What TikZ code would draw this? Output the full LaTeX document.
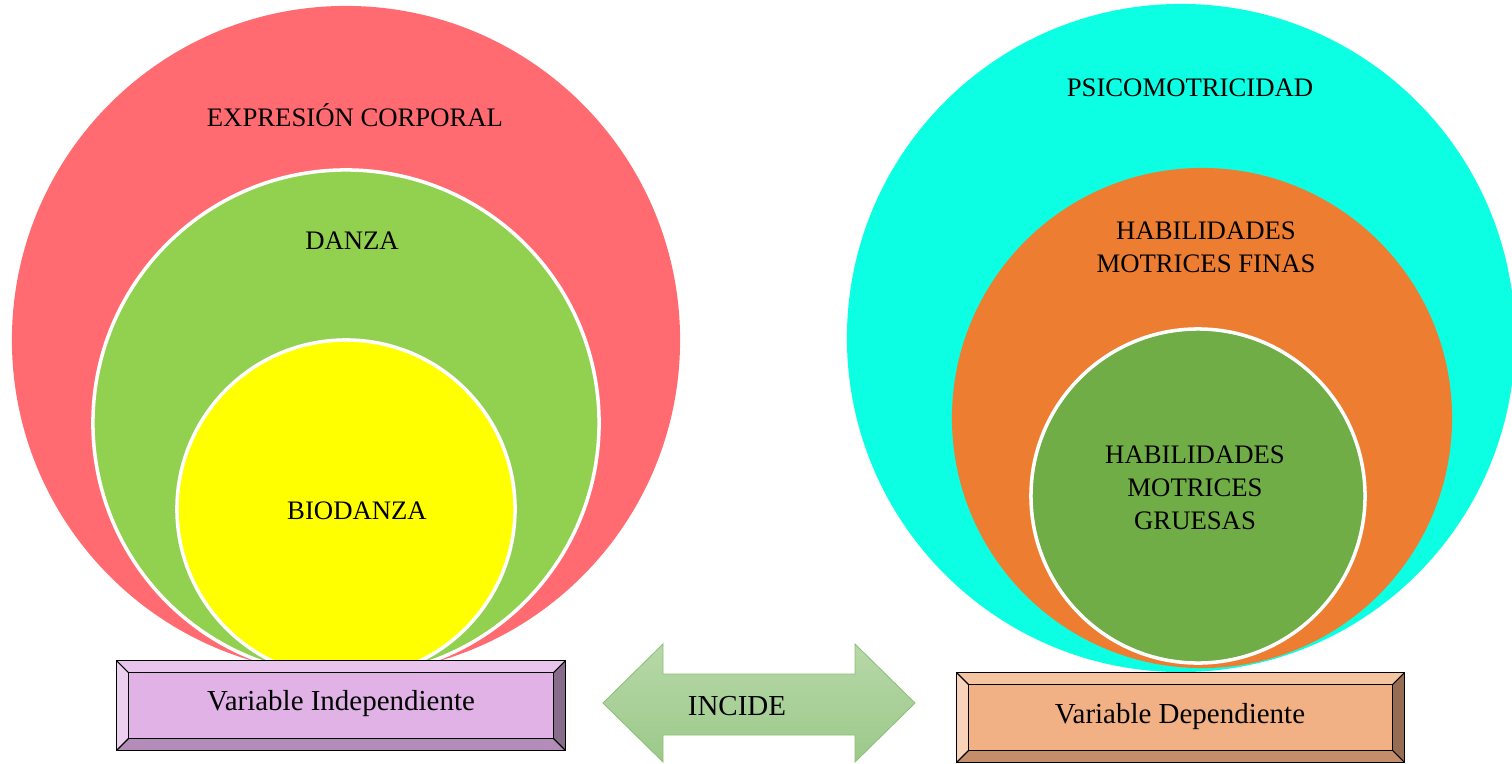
\documentclass[tikz,border=0pt]{standalone}
\usepackage{fontspec}
\setmainfont{Liberation Serif}
\usetikzlibrary{calc}
\definecolor{ecred}{HTML}{FF6B70}
\definecolor{ecgreen}{HTML}{92D050}
\definecolor{ecyellow}{HTML}{FFFF00}
\definecolor{pscyan}{HTML}{0DFFE3}
\definecolor{psorange}{HTML}{ED7D31}
\definecolor{psgreen}{HTML}{70AD47}
\definecolor{vifront}{HTML}{E0B2E6}
\definecolor{vitop}{HTML}{E9C5ED}
\definecolor{vileft}{HTML}{EDD0F0}
\definecolor{viright}{HTML}{876C8C}
\definecolor{vibot}{HTML}{B48CBA}
\definecolor{vdfront}{HTML}{F2B085}
\definecolor{vdtop}{HTML}{F5C4A0}
\definecolor{vdleft}{HTML}{F8D2B9}
\definecolor{vdright}{HTML}{966C52}
\definecolor{vdbot}{HTML}{C48E6A}
\definecolor{incup}{HTML}{B7D8A8}
\definecolor{incdown}{HTML}{9CC98A}
\definecolor{incline}{HTML}{8CC078}

\begin{document}
\begin{tikzpicture}[
  x=0.025cm, y=-0.025cm,
  every node/.style={font=\fontsize{19}{23.5}\selectfont},
  disc/.style={circle, inner sep=0pt},
  ring/.style={circle, inner sep=0pt, draw=white, line width=2.5pt},
  lbl/.style={align=center, inner sep=0pt},
  vbox/.style={rectangle, inner sep=0pt, minimum height=2.225cm, font=\fontsize{20.6}{24}\selectfont},
]
\clip (0,0) rectangle (1512,763);

% Variable independiente
\node[disc, fill=ecred, minimum size=16.7cm] (expr) at (346,340) {};
\node[ring, fill=ecgreen, minimum size=12.65cm] (danza) at (346,423) {};
\node[ring, fill=ecyellow, minimum size=8.45cm] (bio) at (346,509) {};
\node[lbl, anchor=base] (lexpr) at (355,126) {EXPRESIÓN CORPORAL};
\node[lbl, anchor=base] (ldanza) at (352,249) {DANZA};
\node[lbl, anchor=base] (lbio) at (357,519) {BIODANZA};

% Variable dependiente
\node[disc, fill=pscyan, minimum size=16.7cm] (psico) at (1181,338) {};
\node[disc, fill=psorange, minimum size=12.5cm] (finas) at (1202,418) {};
\node[ring, fill=psgreen, minimum size=8.35cm] (gruesas) at (1198,496) {};
\node[lbl, anchor=base] (lpsico) at (1190,96) {PSICOMOTRICIDAD};
\node[lbl] (lfinas) at (1206,247) {HABILIDADES\\MOTRICES FINAS};
\node[lbl] (lgruesas) at (1195,488) {HABILIDADES\\MOTRICES\\GRUESAS};

% Boxes
\node[vbox, fill=vifront, minimum width=11.2cm] (vind) at (341,705.5) {};
\node[vbox, fill=vdfront, minimum width=11.175cm] (vdep) at (1180.5,717.5) {};
\foreach \bx/\cl in {vind/vi, vdep/vd} {
  \fill[\cl top] (\bx.north west) -- (\bx.north east) -- ($(\bx.north east)+(-12,12)$) -- ($(\bx.north west)+(12,12)$) -- cycle;
  \fill[\cl left] (\bx.north west) -- ($(\bx.north west)+(12,12)$) -- ($(\bx.south west)+(12,-12)$) -- (\bx.south west) -- cycle;
  \fill[\cl right] (\bx.north east) -- ($(\bx.north east)+(-12,12)$) -- ($(\bx.south east)+(-12,-12)$) -- (\bx.south east) -- cycle;
  \fill[\cl bot] (\bx.south west) -- ($(\bx.south west)+(12,-12)$) -- ($(\bx.south east)+(-12,-12)$) -- (\bx.south east) -- cycle;
  \draw[line width=1.1pt] (\bx.north west) rectangle (\bx.south east);
  \draw[line width=1.1pt] ($(\bx.north west)+(12,12)$) rectangle ($(\bx.south east)+(-12,-12)$);
  \draw[line width=0.8pt] (\bx.north west) -- ++(12,12) (\bx.north east) -- ++(-12,12)
    (\bx.south west) -- ++(12,-12) (\bx.south east) -- ++(-12,-12);
}
\node[vbox, anchor=base] (tind) at (341,710) {Variable Independiente};
\node[vbox, anchor=base] (tdep) at (1180,723) {Variable Dependiente};

% Incide
\coordinate (arr) at (759,703);
\shade[top color=incup, bottom color=incdown, draw=incline, line width=0.6pt]
  ($(arr)+(-156,0)$) -- ($(arr)+(-96,-59)$) -- ($(arr)+(-96,-29)$) -- ($(arr)+(96,-29)$)
  -- ($(arr)+(96,-59)$) -- ($(arr)+(156,0)$) -- ($(arr)+(96,59)$) -- ($(arr)+(96,32)$)
  -- ($(arr)+(-96,32)$) -- ($(arr)+(-96,59)$) -- cycle;
\node[vbox, anchor=base] (inc) at (737,715) {INCIDE};

\end{tikzpicture}
\end{document}
